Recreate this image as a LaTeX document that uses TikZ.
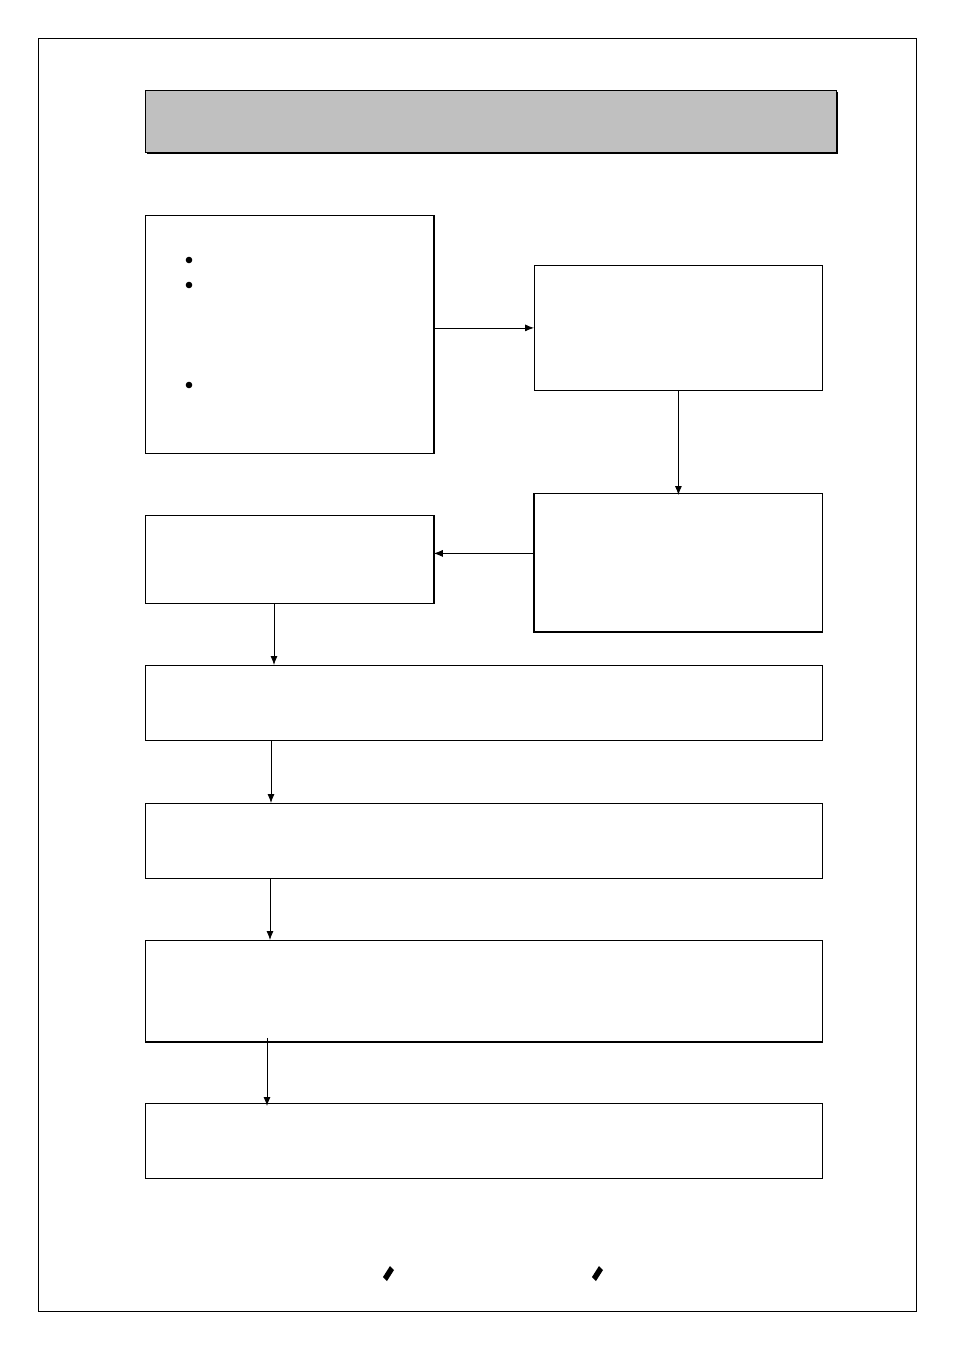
\documentclass[tikz,border=0pt]{standalone}
\usepackage{tikz}
\usetikzlibrary{shapes,arrows,arrows.meta}

\begin{document}
\begin{tikzpicture}[x=1pt,y=-1pt,>={Latex[length=9pt,width=7pt]},line width=0.8pt]

\useasboundingbox (0,0) rectangle (954,1351);
\draw[line width=0.6pt] (38,38) rectangle (916,1311);

\tikzset{block/.style={draw,anchor=north west,inner sep=0pt,fill=white}}

% header
\fill[black] (147,92) rectangle (838,154);
\node [block,fill={rgb,255:red,192;green,192;blue,192},minimum width=691pt,minimum height=62pt] (head) at (145,90) {};

\node [block,minimum width=288pt,minimum height=238pt] (v1) at (145,215) {};
\draw[line width=1.4pt] (v1.north east) -- (v1.south east);
\foreach \y in {260,285,385}
    \fill (189,\y) circle (3.3pt);

\node [block,minimum width=288pt,minimum height=125pt] (v2) at (534,265) {};
\node [block,minimum width=288pt,minimum height=138pt] (v3) at (534,493) {};
\draw[line width=1.4pt] (v3.north west) -- (v3.south west) -- (v3.south east);
\node [block,minimum width=288pt,minimum height=88pt] (v4) at (145,515) {};
\draw[line width=1.4pt] (v4.north east) -- (v4.south east);
\node [block,minimum width=677pt,minimum height=75pt] (v5) at (145,665) {};
\node [block,minimum width=677pt,minimum height=75pt] (v6) at (145,803) {};
\node [block,minimum width=677pt,minimum height=101pt] (v7) at (145,940) {};
\draw[line width=1.4pt] (v7.south west) -- (v7.south east);
\node [block,minimum width=677pt,minimum height=75pt] (v8) at (145,1103) {};

\draw[->] (v1.east |- v2.west) -- (v2.west);
\draw[->] (v2.south) -- ([yshift=-2pt]v3.north);
\draw[->] ([yshift=9pt]v3.west) -- ([yshift=6pt]v4.east);
\draw[->] ([xshift=129pt]v4.south west) -- ([xshift=129pt]v5.north west);
\draw[->] ([xshift=126pt]v5.south west) -- ([xshift=126pt]v6.north west);
\draw[->] ([xshift=125pt]v6.south west) -- ([xshift=125pt]v7.north west);
\draw[->] ([xshift=122pt,yshift=4pt]v7.south west) -- ([xshift=122pt,yshift=-3pt]v8.north west);

\foreach \x in {388,597}
    \fill (\x+2,1266) -- (\x+6,1270) -- (\x-1,1281) -- (\x-5,1277) -- cycle;

\end{tikzpicture}
\end{document}
